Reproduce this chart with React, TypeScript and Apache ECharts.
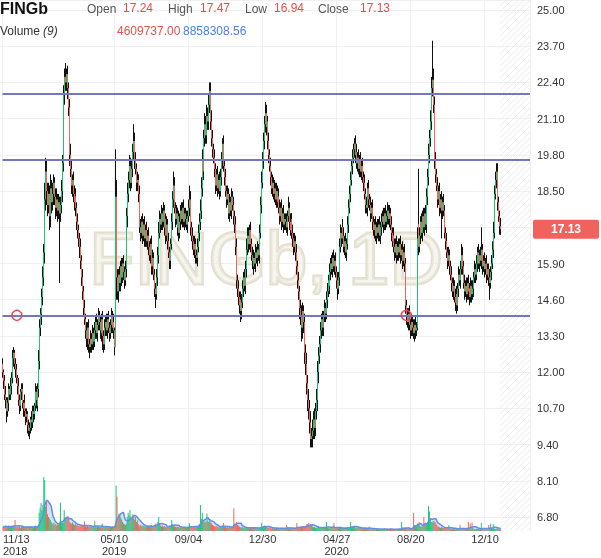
import { useEffect, useRef } from 'react';
import * as echarts from 'echarts';

// ---- data (daily candles, FINGb) ----
const firstDate = '2018-11-13';
const firstOpen = 12.3;
const closes = [
12.0,11.7,11.2,11.0,10.6,10.9,11.4,11.2,11.5,11.8,
12.0,12.5,12.7,12.3,12.1,11.8,11.5,11.0,10.8,11.3,
11.4,10.9,10.7,10.9,10.6,10.4,10.5,10.1,9.9,10.0,
10.3,10.2,10.6,10.5,10.8,11.3,11.0,10.8,11.4,12.4,
13.6,14.1,14.7,15.4,16.3,18.2,19.2,18.5,18.0,18.4,
17.6,18.2,18.6,18.1,18.4,18.8,18.3,17.9,18.2,17.8,
18.1,17.7,18.0,18.5,19.5,20.8,22.0,22.6,22.4,22.7,
22.2,21.5,19.8,19.3,18.7,18.9,18.4,18.1,18.3,17.9,
17.4,17.1,16.8,16.5,16.0,15.4,14.9,14.3,13.9,13.5,
13.2,13.6,13.3,13.0,12.9,13.2,13.0,13.4,13.1,13.5,
13.8,13.4,13.7,14.0,13.8,13.5,
13.4,13.9,13.3,13.0,13.6,
13.8,13.5,13.9,13.6,13.4,13.7,14.0,13.6,13.8,13.5,
12.9,18.3,15.4,14.9,15.5,15.2,15.8,15.4,15.9,15.6,
15.3,15.7,16.2,17.6,18.4,18.9,19.4,18.8,19.3,19.9,
20.3,19.6,19.3,18.8,18.9,18.4,17.6,17.2,17.0,17.4,
16.9,17.3,16.8,17.1,16.7,16.9,16.5,16.2,16.6,16.0,
15.8,16.1,15.5,15.0,14.8,15.4,16.2,17.0,17.5,17.3,
17.7,17.4,17.8,17.2,17.5,16.9,17.3,16.7,16.3,16.0,
16.6,17.4,18.2,18.7,17.9,17.5,17.7,17.2,17.6,17.0,
17.4,17.8,17.5,17.9,17.4,17.7,17.5,
17.3,17.6,17.9,18.2,
17.6,17.2,16.9,16.7,16.4,16.6,16.2,16.1,16.5,17.0,
17.4,17.8,18.6,19.6,19.2,20.4,20.9,20.5,21.2,21.0,
21.6,22.1,21.0,20.4,20.0,19.7,19.3,19.0,18.7,19.1,
18.6,18.9,18.5,19.0,19.6,20.2,19.4,19.0,18.5,18.2,
18.4,18.0,17.7,18.1,17.8,18.3,18.0,17.6,17.3,16.5,
15.3,15.0,14.7,14.4,14.6,14.2,14.5,15.0,15.4,15.1,
15.7,16.4,16.9,16.6,17.1,16.6,16.2,16.0,15.8,16.1,
15.9,16.3,16.1,16.4,16.2,17.0,18.0,18.8,19.6,20.3,
20.9,21.3,20.8,21.0,20.3,19.8,19.4,19.0,18.6,18.8,
18.4,18.6,18.2,18.5,18.1,18.3,17.9,17.6,17.9,17.4,
17.7,17.3,17.5,17.4,
17.2,17.6,17.9,17.4,17.1,17.5,17.0,
16.8,16.5,16.7,16.3,15.8,15.3,14.9,14.3,14.0,13.6,
14.2,13.8,13.2,12.7,12.3,11.6,11.0,10.7,10.2,9.6,
9.7,9.9,10.3,10.0,10.6,11.0,11.4,12.0,12.6,13.0,
13.5,13.9,13.6,14.0,14.3,14.1,14.6,14.9,15.3,15.1,
15.6,15.9,15.7,16.1,15.8,16.0,15.6,15.3,15.0,15.4,
16.5,17.0,16.8,17.2,16.9,16.5,16.7,16.3,16.6,17.3,
17.9,18.4,18.9,19.4,19.7,20.0,20.2,19.8,19.9,19.5,
19.7,19.3,19.6,19.2,19.4,19.0,18.8,18.4,18.0,17.9,
18.3,18.6,18.2,18.0,17.7,17.9,17.4,17.1,17.3,16.9,
17.2,17.0,17.3,16.9,17.1,17.2,
17.4,17.6,17.3,17.7,17.4,
17.6,17.8,17.5,17.7,17.3,17.0,16.7,16.9,16.5,16.3,
16.6,16.2,16.5,16.3,16.6,16.2,16.4,16.0,16.3,15.9,
15.0,14.4,14.0,13.8,14.1,13.7,13.5,13.8,13.6,13.4,
13.7,13.5,13.6,16.8,17.3,16.5,16.9,17.4,17.0,17.6,
17.2,17.7,17.3,18.3,19.0,19.8,20.4,21.0,21.5,22.2,
22.5,21.6,19.6,19.1,18.7,18.2,18.5,17.9,18.2,17.8,
18.1,17.8,17.4,17.0,16.7,16.3,16.0,16.2,15.8,15.5,
15.2,14.9,15.1,14.7,14.5,14.8,14.4,15.0,15.5,15.3,
15.7,16.2,15.8,15.2,14.9,15.1,14.8,15.2,14.9,15.0,
14.7,15.1,14.8,15.0,15.4,15.7,15.5,15.9,16.3,15.9,
16.2,16.0,16.4,16.1,15.8,16.0,15.7,15.9,15.5,15.7,
15.4,15.2,15.6,15.9,16.4,17.0,17.6,18.4,18.9,19.2,
18.1,17.6,17.24,17.13
];
// upper / lower shadow beyond the body, in tenths of a krona
const wickUp10 = [
2,1,2,3,1,2,2,1,3,2,
2,3,2,1,2,2,1,3,2,1,
2,2,1,3,2,1,2,1,2,2,
1,3,2,2,1,3,2,2,2,4,
3,2,3,4,3,6,5,4,3,4,
3,4,5,3,4,3,2,3,4,2,
3,2,3,4,3,4,3,3,5,2,
3,2,3,4,3,2,3,3,2,3,
2,3,2,2,3,2,3,2,3,2,
3,2,3,2,2,3,2,3,2,3,
2,3,2,3,2,2,
3,2,3,2,3,
2,3,2,3,2,2,3,2,3,2,
1,17,6,3,2,3,2,3,2,3,
2,3,4,3,4,3,4,3,3,3,
6,3,3,2,3,2,3,2,3,2,
3,2,3,2,3,2,3,2,2,3,
2,3,2,2,2,3,3,4,3,2,
3,2,3,2,3,2,3,2,3,2,
2,3,3,5,3,2,3,2,3,2,
3,2,3,2,3,2,2,
3,2,3,5,
3,2,2,3,2,3,2,2,3,3,
3,4,4,3,4,3,4,3,4,3,
4,3,3,4,3,2,3,2,3,2,
3,2,3,3,3,2,3,2,3,2,
3,2,2,3,2,3,2,3,2,3,
3,2,3,2,3,2,3,3,2,3,
3,4,3,3,2,3,2,3,2,3,
2,3,2,3,2,3,3,4,3,3,
3,4,3,3,2,3,2,3,2,3,
2,3,2,3,2,3,2,3,2,3,
2,3,2,2,
3,2,4,2,3,2,2,
3,2,3,2,3,2,3,2,3,4,
3,2,3,4,3,4,3,4,3,4,
3,4,3,4,3,4,3,4,3,3,
3,2,3,2,3,2,3,3,2,3,
3,2,3,2,3,2,3,2,3,2,
3,3,2,3,2,3,2,3,2,3,
3,3,3,2,3,2,2,3,2,3,
2,3,2,3,2,3,2,3,2,3,
3,2,3,2,3,2,3,2,2,3,
2,3,2,3,2,2,
3,2,3,2,3,
2,3,2,3,2,3,2,3,2,3,
2,3,2,3,2,3,2,3,2,3,
2,3,2,3,2,3,2,3,2,3,
2,3,2,4,20,3,3,2,3,2,
3,2,3,3,3,4,3,4,3,4,
14,4,3,3,2,3,2,3,2,3,
2,3,2,3,2,3,2,3,2,2,
3,2,3,2,3,2,3,2,3,2,
3,4,3,2,3,2,3,2,3,2,
2,3,2,3,2,3,2,3,2,3,
2,3,8,2,3,2,3,2,3,2,
2,3,2,3,3,4,3,3,3,3,
3,2,2,3
];
const wickDown10 = [
2,3,2,3,4,2,3,2,2,3,
2,2,3,2,3,2,3,2,3,2,
3,2,3,2,2,3,2,3,2,3,
2,3,2,3,2,2,3,2,2,3,
3,3,4,3,3,4,4,5,4,3,
5,4,3,4,3,4,3,4,3,4,
3,25,3,3,4,3,3,4,3,3,
4,3,4,3,3,4,3,3,4,3,
3,3,3,4,3,3,3,3,2,3,
3,4,2,3,4,2,3,2,3,2,
3,2,3,2,3,3,
2,3,5,3,2,
3,2,3,2,3,2,3,2,3,3,
3,0,8,3,4,3,3,3,2,3,
3,2,3,3,4,3,3,3,2,3,
3,3,2,3,3,3,3,2,3,2,
3,2,3,3,2,3,3,2,3,2,
3,3,2,3,5,2,3,3,2,3,
2,3,2,3,2,3,2,3,2,3,
3,2,3,3,2,3,2,3,2,3,
2,3,2,3,2,3,3,
2,3,2,3,
2,3,2,3,2,3,3,2,3,2,
3,3,3,3,3,3,3,3,3,3,
3,3,3,3,3,2,3,2,3,2,
3,2,3,2,3,3,2,3,2,3,
2,3,2,3,2,3,2,3,3,3,
3,3,3,3,2,4,3,2,3,2,
3,3,2,3,2,3,2,3,2,3,
2,3,2,3,2,3,2,3,2,3,
3,3,3,2,3,3,2,3,2,3,
2,3,2,3,2,3,2,3,2,3,
2,3,2,3,
2,3,2,3,2,3,2,
3,3,2,3,3,3,3,4,3,5,
4,4,3,4,4,4,4,4,4,3,
3,4,3,4,3,3,4,3,4,3,
3,3,3,3,2,3,2,3,2,3,
2,3,2,3,2,3,2,3,4,2,
3,2,3,2,3,2,3,2,3,2,
3,2,3,2,3,2,3,2,3,2,
3,2,3,2,3,2,3,2,3,2,
3,2,3,2,3,2,3,2,3,2,
3,2,3,2,3,2,
3,2,3,2,3,
2,3,2,3,2,3,2,3,2,3,
2,3,2,3,2,3,2,3,2,3,
3,3,3,2,3,2,3,2,3,2,
3,3,2,1,2,3,2,3,2,3,
2,3,2,3,3,3,3,3,3,3,
3,3,3,3,2,3,2,3,2,10,
3,2,3,2,3,2,3,2,3,2,
3,2,3,2,3,2,3,2,3,2,
3,2,3,2,3,2,3,2,3,2,
3,2,3,2,3,2,3,2,3,2,
3,2,3,2,3,2,3,2,3,2,
3,6,2,3,2,3,2,3,2,3,
3,2,3,2
];
// volume, millions of shares
const volumes = [
14,16,12,18,15,13,17,12,14,16,
13,20,15,36,14,12,16,13,15,11,
14,12,16,13,11,15,12,14,13,16,
12,15,13,11,14,18,13,16,20,60,
75,92,69,86,178,168,80,100,55,46,
42,36,30,25,22,28,20,24,18,22,
20,25,93,30,26,28,69,46,40,44,
42,40,30,26,24,28,22,20,25,18,
20,16,18,15,17,19,15,18,31,16,
14,17,13,15,18,12,14,16,13,34,
15,12,16,14,13,12,
15,25,14,11,13,
12,15,11,13,14,10,12,16,11,14,
20,150,113,40,58,52,45,38,30,25,
22,20,24,46,60,52,69,48,40,55,
50,38,46,30,35,22,18,20,16,19,
15,18,14,17,13,16,14,18,15,20,
16,14,18,22,25,20,30,47,24,18,
15,17,14,16,13,15,12,14,16,19,
18,36,24,20,16,14,12,15,13,11,
13,12,14,11,13,10,12,
11,13,12,26,
15,12,14,11,13,16,12,14,17,20,
22,86,40,60,35,30,32,28,58,34,
30,35,28,25,20,18,16,14,17,13,
15,12,14,13,16,18,26,14,12,11,
13,10,12,14,11,13,15,75,25,22,
30,20,18,14,12,11,13,10,12,11,
9,11,10,12,9,13,10,8,11,9,
12,10,9,11,8,10,12,26,14,16,
18,15,13,12,10,11,9,12,8,10,
9,11,8,10,9,7,10,8,9,11,
8,10,9,8,
20,9,8,10,7,9,8,
10,8,9,11,26,12,14,10,13,15,
12,14,13,15,20,24,22,26,20,23,
18,14,12,13,11,10,12,13,11,10,
12,10,11,13,10,12,30,11,9,10,
8,11,9,10,26,9,8,10,11,9,
12,10,9,11,8,10,9,11,10,12,
13,11,30,12,14,15,13,11,12,10,
11,9,10,12,8,9,11,8,10,7,
9,8,15,7,6,8,7,6,8,5,
7,6,8,5,7,6,
5,7,6,8,5,
6,7,5,6,8,5,6,7,5,6,
7,5,6,8,6,7,30,8,6,7,
9,10,8,7,9,8,10,7,9,60,
20,18,15,25,24,30,15,16,14,17,
46,22,28,25,30,82,64,36,30,28,
34,32,30,25,20,15,14,12,10,13,
11,9,12,10,8,11,9,20,8,7,
9,6,8,7,5,8,6,7,9,20,
6,5,7,6,8,5,7,6,30,9,
25,8,28,10,6,7,5,8,6,7,
5,6,26,7,5,6,4,7,5,6,
20,8,24,9,6,22,8,7,6,9,
6,7,5,4.6
];
const holidays = [
  '2018-12-24','2018-12-25','2018-12-26','2018-12-31','2019-01-01','2019-04-19','2019-04-22',
  '2019-05-01','2019-05-30','2019-06-06','2019-06-21','2019-12-24','2019-12-25','2019-12-26',
  '2019-12-31','2020-01-01','2020-01-06','2020-04-10','2020-04-13','2020-05-01','2020-05-21',
  '2020-06-19','2020-12-24','2020-12-25','2020-12-31','2021-01-01','2021-01-06'
];
const tickDates = ['2018-11-13','2019-05-10','2019-09-04','2019-12-30','2020-04-27','2020-08-20','2020-12-10'];
const levelLines = [21.99, 19.62, 14.04];
const anchorDates = ['2018-12-04', '2020-08-13'];
const anchorPrice = 14.04;
const lastPrice = 17.13;
const totalSlots = 569;
const priceMin = 6.3, priceMax = 25.36, labelBase = 6.8, labelStep = 1.3;
const volMax = 1750;
const maPeriod = 9;

const header1 = [
  { t: 'Open', v: '17.24', xl: 87, xv: 123 },
  { t: 'High', v: '17.47', xl: 168, xv: 200 },
  { t: 'Low', v: '16.94', xl: 245, xv: 274 },
  { t: 'Close', v: '17.13', xl: 318, xv: 360 },
];
const volText = '4609737.00';
const volMaText = '8858308.56';

function buildDates(start: string, count: number): string[] {
  const out: string[] = [];
  const d = new Date(start + 'T00:00:00Z');
  while (out.length < count) {
    const wd = d.getUTCDay();
    const s = d.toISOString().slice(0, 10);
    if (wd !== 0 && wd !== 6 && !holidays.includes(s)) out.push(s);
    d.setUTCDate(d.getUTCDate() + 1);
  }
  return out;
}

const FONT = '"Liberation Sans", Arial, Helvetica, sans-serif';
const UP = '#1fc47a';
const DOWN = '#f2665c';

export default function App() {
  const ref = useRef<HTMLDivElement>(null);
  useEffect(() => {
    const chart = echarts.init(ref.current!, null, { renderer: 'svg' });
    const dates = buildDates(firstDate, totalSlots);
    const n = closes.length;
    const opens = closes.map((c, i) => (i === 0 ? firstOpen : closes[i - 1]));
    const full = closes.map((c, i) => {
      const o = opens[i];
      return [o, c, Math.min(o, c) - wickDown10[i] / 10, Math.max(o, c) + wickUp10[i] / 10];
    });
    const bodies = closes.map((c, i) => {
      const o = opens[i];
      return [o, c, Math.min(o, c), Math.max(o, c)];
    });
    const vol = volumes.slice(0, n).map((v, i) => ({
      value: v,
      itemStyle: { color: closes[i] >= opens[i] ? UP : DOWN },
    }));
    const ma = volumes.slice(0, n).map((_, i) => {
      const s = Math.max(0, i - maPeriod + 1);
      const arr = volumes.slice(s, i + 1);
      return arr.reduce((a, b) => a + b, 0) / arr.length;
    });
    const tickSet = new Set(tickDates);
    const showTick = (_: number, v: string) => tickSet.has(v);

    const hatch: any[] = [];
    const hx0 = 500, hx1 = 530, hy1 = 531;
    for (let c = hx0; c <= hx1 + hy1; c += 6) {
      const xa = Math.max(hx0, c - hy1), xb = Math.min(hx1, c);
      if (xb > xa) hatch.push({ type: 'line', silent: true, z: 1, shape: { x1: xa, y1: c - xa, x2: xb, y2: c - xb }, style: { stroke: '#ececec', lineWidth: 1 } });
    }

    const headerEls: any[] = [
      { type: 'text', x: 0, y: 8, z: 100, style: { text: 'FINGb', font: `bold 16px ${FONT}`, fill: '#111', verticalAlign: 'middle' } },
      { type: 'text', x: 0, y: 31, z: 100, style: { text: 'Volume', font: `12px ${FONT}`, fill: '#333', verticalAlign: 'middle' } },
      { type: 'text', x: 43, y: 31, z: 100, style: { text: '(9)', font: `italic 12px ${FONT}`, fill: '#333', verticalAlign: 'middle' } },
      { type: 'text', x: 117, y: 31, z: 100, style: { text: volText, font: `12px ${FONT}`, fill: '#e0504e', verticalAlign: 'middle' } },
      { type: 'text', x: 183, y: 31, z: 100, style: { text: volMaText, font: `12px ${FONT}`, fill: '#4a82df', verticalAlign: 'middle' } },
    ];
    header1.forEach((h) => {
      headerEls.push({ type: 'text', x: h.xl, y: 9, z: 100, style: { text: h.t, font: `12px ${FONT}`, fill: '#555', verticalAlign: 'middle' } });
      headerEls.push({ type: 'text', x: h.xv, y: 8, z: 100, style: { text: h.v, font: `12px ${FONT}`, fill: '#e0504e', verticalAlign: 'middle' } });
    });

    const option: any = {
      animation: false,
      grid: [
        { left: 0, right: 71, top: 0, bottom: 27 },
        { left: 0, right: 71, top: 0, bottom: 41 },
      ],
      xAxis: [
        {
          type: 'category', gridIndex: 0, data: dates, boundaryGap: true,
          axisLine: { show: false }, axisTick: { show: false },
          axisLabel: {
            interval: showTick, margin: 2, fontSize: 11, lineHeight: 12, color: '#333', fontFamily: FONT,
            alignMinLabel: 'left',
            formatter: (v: string) => {
              const idx = tickDates.indexOf(v);
              const md = v.slice(5, 7) + '/' + v.slice(8, 10);
              const yr = v.slice(0, 4);
              const newYear = idx === 0 || (idx > 0 && tickDates[idx - 1].slice(0, 4) !== yr);
              return newYear ? md + '\n' + yr : md;
            },
          },
          splitLine: { show: true, interval: showTick, lineStyle: { color: '#f0f0f0', width: 1 } },
        },
        { type: 'value', gridIndex: 1, show: false, min: 0, max: 1 },
      ],
      yAxis: [
        { type: 'value', gridIndex: 0, min: priceMin, max: priceMax, show: false, scale: true },
        { type: 'value', gridIndex: 0, min: 0, max: volMax, show: false },
        {
          type: 'value', gridIndex: 1, position: 'right', min: 0, max: priceMax - labelBase, interval: labelStep,
          axisLine: { show: false }, axisTick: { show: false },
          axisLabel: {
            showMaxLabel: false, margin: 7, fontSize: 11, color: '#333', fontFamily: FONT,
            // the label hidden under the last-price tag is left blank, as in the reference
            formatter: (v: number) => (Math.abs(v + labelBase - lastPrice) < 0.3 ? '' : (v + labelBase).toFixed(2)),
          },
          splitLine: { show: true, lineStyle: { color: '#f0f0f0', width: 1 } },
        },
      ],
      graphic: [
        { type: 'text', x: 266, y: 258, z: 1, silent: true, style: { text: 'FINGb, 1D', font: `74px ${FONT}`, fill: 'rgba(240,237,226,0.55)', stroke: '#e3dfcf', lineWidth: 3, align: 'center', verticalAlign: 'middle' } },
        ...hatch,
        ...headerEls,
      ],
      series: [
        {
          type: 'bar', name: 'Volume', xAxisIndex: 0, yAxisIndex: 1, data: vol, barWidth: '70%', z: 2, silent: true,
        },
        {
          type: 'line', name: 'VolMA', xAxisIndex: 0, yAxisIndex: 1, data: ma, symbol: 'none', z: 2, silent: true,
          lineStyle: { color: '#5f8fe6', width: 1.5 }, areaStyle: { color: 'rgba(120,160,232,0.45)' },
        },
        {
          type: 'candlestick', name: 'wick', xAxisIndex: 0, yAxisIndex: 0, data: full, barWidth: '60%', z: 3, silent: true,
          itemStyle: { color: '#111', color0: '#111', borderColor: '#111', borderColor0: '#111', borderWidth: 1 },
        },
        {
          type: 'candlestick', name: 'FINGb', xAxisIndex: 0, yAxisIndex: 0, data: bodies, barWidth: '60%', z: 4, silent: true,
          itemStyle: { color: UP, color0: DOWN, borderColor: UP, borderColor0: DOWN, borderWidth: 1 },
          markLine: {
            silent: true, symbol: ['none', 'none'], animation: false,
            data: [
              ...levelLines.map((v) => ({ yAxis: v, lineStyle: { color: '#7377bc', width: 2, type: 'solid' }, label: { show: false } })),
              {
                yAxis: lastPrice, lineStyle: { color: 'rgba(0,0,0,0)', width: 0 },
                label: {
                  show: true, position: 'end', distance: 3, formatter: lastPrice.toFixed(2),
                  backgroundColor: '#f2625c', color: '#fff', fontWeight: 'bold', fontSize: 12, fontFamily: FONT,
                  padding: [4, 18, 3, 18], borderRadius: 2,
                },
              },
            ],
          },
          markPoint: {
            silent: true, symbol: 'circle', symbolSize: 10, animation: false,
            label: { show: false },
            itemStyle: { color: 'rgba(255,255,255,0)', borderColor: '#ea4a50', borderWidth: 1.5 },
            data: anchorDates.map((d) => ({ coord: [d, anchorPrice] })),
          },
        },
      ],
    };
    chart.setOption(option);
    return () => chart.dispose();
  }, []);
  return <div ref={ref} style={{ position: 'fixed', left: 0, top: 0, width: 601, height: 558 }} />;
}
